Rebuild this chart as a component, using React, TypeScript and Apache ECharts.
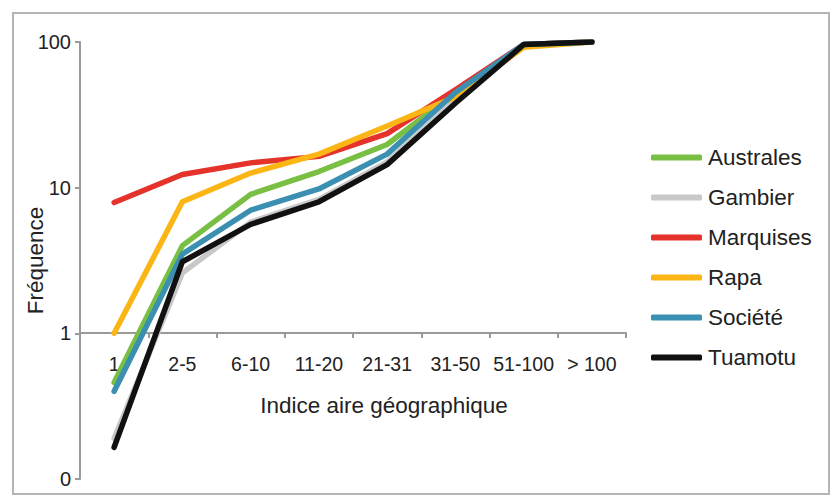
import React, { useEffect, useRef } from "react";
import * as echarts from "echarts";

const categories = ["1", "2-5", "6-10", "11-20", "21-31", "31-50", "51-100", "> 100"];
const seriesNames = ["Australes", "Gambier", "Marquises", "Rapa", "Société", "Tuamotu"];
const australes = [0.46, 4.0, 9.0, 12.9, 19.8, 45, 96, 100];
const gambier = [0.19, 2.6, 5.8, 8.3, 15, 40, 95, 100];
const marquises = [7.9, 12.3, 14.8, 16.4, 23.5, 47, 96, 100];
const rapa = [1.0, 8.0, 12.6, 17, 26.5, 42, 92, 100];
const societe = [0.4, 3.5, 7.0, 9.8, 17, 45, 96, 100];
const tuamotu = [0.165, 3.1, 5.6, 8.0, 14.4, 38, 96, 100];
const seriesValues = [australes, gambier, marquises, rapa, societe, tuamotu];
const colors = ["#79bf43", "#c8c8c8", "#e5322a", "#fbb616", "#3b90b2", "#111111"];
const yTicks = [0.1, 1, 10, 100];

const FONT = "'Liberation Sans', Arial, Helvetica, sans-serif";

export default function App() {
  const ref = useRef<HTMLDivElement>(null);
  useEffect(() => {
    document.body.style.margin = "0";
    const chart = echarts.init(ref.current!, undefined, { renderer: "svg" });
    const option: any = {
      animation: false,
      backgroundColor: "#ffffff",
      color: colors,
      textStyle: { fontFamily: FONT },
      graphic: [
        {
          type: "rect",
          shape: { x: 13, y: 13, width: 816, height: 481 },
          style: { fill: "none", stroke: "#b4b4b4", lineWidth: 2 },
          silent: true,
        },
      ],
      grid: [
        { left: 80, top: 42, width: 546, height: 437 },
        { left: 80, top: 42, width: 546, height: 291 },
      ],
      legend: {
        orient: "vertical",
        left: 646,
        top: 141,
        itemWidth: 51,
        itemHeight: 6,
        itemGap: 17,
        icon: "roundRect",
        data: seriesNames,
        textStyle: {
          fontFamily: FONT,
          fontSize: 22.5,
          color: "#222",
          lineHeight: 23,
          padding: [0, 0, 0, 1],
        },
      },
      xAxis: [
        {
          type: "category",
          gridIndex: 0,
          data: categories,
          boundaryGap: true,
          show: false,
        },
        {
          type: "category",
          gridIndex: 1,
          data: categories,
          boundaryGap: true,
          axisLine: { show: true, lineStyle: { color: "#9a9a9a", width: 2 } },
          axisTick: { show: true, length: 5, lineStyle: { color: "#9a9a9a", width: 2 } },
          axisLabel: { interval: 0, margin: 21, fontSize: 19.5, color: "#222", fontFamily: FONT },
          name: "Indice aire géographique",
          nameLocation: "middle",
          nameGap: 61,
          nameMoveOverlap: false,
          nameTextStyle: { fontSize: 22.5, color: "#222", fontFamily: FONT, padding: [0, 0, 0, 62] },
        },
      ],
      yAxis: [
        {
          type: "log",
          gridIndex: 0,
          logBase: 10,
          min: yTicks[0],
          max: yTicks[yTicks.length - 1],
          splitLine: { show: false },
          axisLine: { show: true, lineStyle: { color: "#9a9a9a", width: 2 } },
          axisTick: { show: true, length: 5, lineStyle: { color: "#9a9a9a", width: 2 } },
          axisLabel: {
            margin: 9,
            fontSize: 20,
            color: "#222",
            fontFamily: FONT,
            formatter: (v: number) => (v < 0.99 ? "0" : String(Math.round(v))),
          },
          name: "Fréquence",
          nameLocation: "middle",
          nameRotate: 90,
          nameGap: 33,
          nameMoveOverlap: false,
          nameTextStyle: { fontSize: 22.5, color: "#222", fontFamily: FONT },
        },
        {
          type: "value",
          gridIndex: 1,
          min: 0,
          max: 1,
          show: false,
        },
      ],
      series: seriesNames.map((name, i) => ({
        name,
        type: "line",
        xAxisIndex: 0,
        yAxisIndex: 0,
        data: seriesValues[i],
        showSymbol: false,
        symbol: "none",
        lineStyle: { width: 5.5, color: colors[i], cap: "round", join: "round" },
        itemStyle: { color: colors[i] },
      })),
    };
    chart.setOption(option);
    return () => chart.dispose();
  }, []);
  return <div ref={ref} style={{ width: 833, height: 497 }} />;
}
